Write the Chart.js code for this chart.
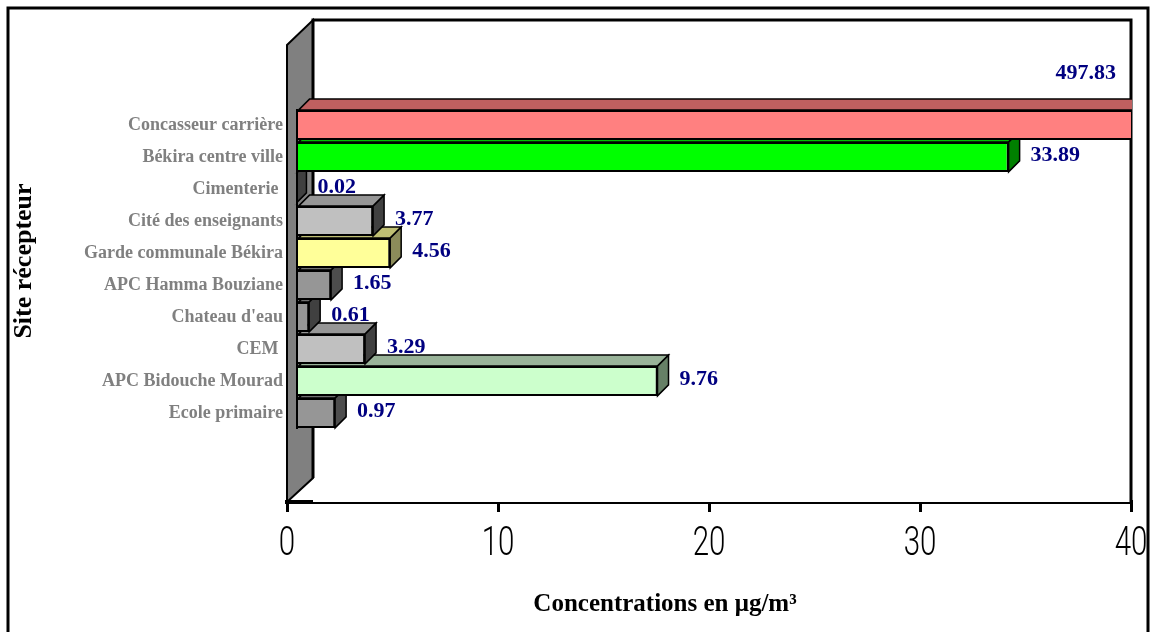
<!DOCTYPE html>
<html><head><meta charset="utf-8">
<script src="https://cdn.jsdelivr.net/npm/chart.js@4.4.1/dist/chart.umd.min.js"></script>
<style>html,body{margin:0;padding:0;background:#fff;overflow:hidden}canvas{display:block}</style>
</head><body>
<canvas id="c" width="1158" height="632"></canvas>
<script>
const categories = ['Concasseur carrière', 'Békira centre ville', 'Cimenterie ', 'Cité des enseignants', 'Garde communale Békira', 'APC Hamma Bouziane', "Chateau d'eau", 'CEM ', 'APC Bidouche Mourad', 'Ecole primaire'];
// bar lengths as drawn in the picture (axis units)
const barLengths = [497.83, 34.2, 0.4, 4.08, 4.89, 2.09, 1.05, 3.7, 17.56, 2.28];
// value labels as printed in the picture
const valueLabels = ['497.83', '33.89', '0.02', '3.77', '4.56', '1.65', '0.61', '3.29', '9.76', '0.97'];
const xTicks = [0, 10, 20, 30, 40];
const xTitle = 'Concentrations en μg/m³';
const yTitle = 'Site récepteur';

const frontColors = ['#ff8080', '#00ff00', '#969696', '#c0c0c0', '#ffff99', '#969696', '#969696', '#c0c0c0', '#ccffcc', '#969696'];
const topColors   = ['#c06060', '#00c000', '#707070', '#969696', '#bfbf73', '#707070', '#707070', '#969696', '#99b399', '#707070'];
const sideColors  = ['#804040', '#008000', '#404040', '#404040', '#8c8c5a', '#4d4d4d', '#404040', '#404040', '#668066', '#4d4d4d'];

const DEPTH = 11, INSET = 10, WALL = 26;
const SERIF = '"Liberation Serif", "Times New Roman", serif';

function poly(ctx, pts, fill) {
  ctx.beginPath();
  ctx.moveTo(pts[0][0], pts[0][1]);
  for (let k = 1; k < pts.length; k++) ctx.lineTo(pts[k][0], pts[k][1]);
  ctx.closePath();
  ctx.fillStyle = fill; ctx.fill();
  ctx.strokeStyle = '#000'; ctx.lineWidth = 1.5; ctx.stroke();
}

const deco = {
  id: 'deco',
  beforeDatasetsDraw(chart) {
    const {ctx, chartArea: a} = chart;
    ctx.save();
    ctx.fillStyle = '#fff';
    ctx.fillRect(a.left + WALL, a.top, a.right - a.left - WALL, a.bottom - a.top);
    ctx.beginPath();
    ctx.moveTo(a.left, a.top + 25); ctx.lineTo(a.left + WALL, a.top);
    ctx.lineTo(a.left + WALL, a.bottom - 24); ctx.lineTo(a.left, a.bottom);
    ctx.closePath();
    ctx.fillStyle = '#808080'; ctx.fill();
    ctx.strokeStyle = '#000'; ctx.lineWidth = 2; ctx.stroke();
    ctx.lineWidth = 3;
    ctx.beginPath();
    ctx.moveTo(a.left + WALL, a.bottom - 24); ctx.lineTo(a.left + WALL, a.top);
    ctx.lineTo(a.right, a.top); ctx.lineTo(a.right, a.bottom);
    ctx.stroke();
    const meta = chart.getDatasetMeta(0);
    ctx.beginPath(); ctx.rect(a.left, 0, a.right - a.left + 1, chart.height); ctx.clip();
    for (let i = meta.data.length - 1; i >= 0; i--) {
      const b = meta.data[i].getProps(['x', 'y', 'base', 'height'], true);
      const top = b.y - b.height / 2, bot = b.y + b.height / 2;
      const x0 = b.base + INSET, xe = Math.min(b.x, a.right + 40);
      poly(ctx, [[x0, top], [x0 + DEPTH, top - DEPTH], [xe + DEPTH, top - DEPTH], [xe, top]], topColors[i]);
      poly(ctx, [[xe, top], [xe + DEPTH, top - DEPTH], [xe + DEPTH, bot - DEPTH], [xe, bot]], sideColors[i]);
    }
    ctx.restore();
  },
  afterDatasetsDraw(chart) {
    const {ctx, chartArea: a} = chart;
    const meta = chart.getDatasetMeta(0);
    const xs = chart.scales.x;
    const xmax = xs.max;
    ctx.save();
    for (let i = 0; i < meta.data.length; i++) {
      const b = meta.data[i].getProps(['x', 'y', 'base', 'height'], true);
      const top = b.y - b.height / 2, bot = b.y + b.height / 2;
      ctx.fillStyle = '#808080';
      ctx.fillRect(a.left, top - 1, INSET, bot - top + 2);
      ctx.strokeStyle = '#000'; ctx.lineWidth = 2;
      ctx.beginPath(); ctx.moveTo(a.left + INSET, top - 1); ctx.lineTo(a.left + INSET, bot + 1); ctx.stroke();
    }
    ctx.lineWidth = 2; ctx.beginPath();
    ctx.moveTo(a.left, a.top + 25); ctx.lineTo(a.left, a.bottom); ctx.stroke();
    // value labels
    ctx.font = 'bold 22px ' + SERIF;
    ctx.fillStyle = '#000080';
    ctx.textBaseline = 'middle';
    for (let i = 0; i < meta.data.length; i++) {
      const b = meta.data[i].getProps(['x', 'y'], true);
      if (barLengths[i] > xmax) {
        ctx.textAlign = 'right';
        ctx.fillText(valueLabels[i], a.right - 15, a.top + 53);
      } else {
        ctx.textAlign = 'left';
        ctx.fillText(valueLabels[i], b.x + DEPTH + 11, b.y - 2);
      }
    }
    // x tick labels (narrow, thin face) at the axis' tick positions
    ctx.fillStyle = '#000';
    ctx.font = '300 41px Roboto, "Liberation Sans", sans-serif';
    ctx.textAlign = 'center';
    ctx.textBaseline = 'middle';
    for (const v of xTicks) {
      ctx.save();
      ctx.translate(xs.getPixelForValue(v), a.bottom + 43);
      ctx.scale(0.72, 1);
      ctx.fillText(String(v), 0, 0);
      ctx.restore();
    }
    // x axis title
    ctx.font = 'bold 25px ' + SERIF;
    ctx.fillStyle = '#000';
    ctx.textAlign = 'center';
    ctx.fillText(xTitle, 665, 605);
    ctx.restore();
  },
  afterDraw(chart) {
    const ctx = chart.ctx;
    ctx.save();
    ctx.strokeStyle = '#000'; ctx.lineWidth = 3;
    ctx.beginPath();
    ctx.moveTo(8, 640); ctx.lineTo(8, 8); ctx.lineTo(1148, 8); ctx.lineTo(1148, 640);
    ctx.stroke();
    ctx.restore();
  }
};

new Chart(document.getElementById('c'), {
  type: 'bar',
  data: {
    datasets: [{
      data: categories.map((c, i) => ({x: barLengths[i], y: i})),
      backgroundColor: frontColors,
      borderColor: '#000',
      borderWidth: 2,
      borderSkipped: false,
      barPercentage: 0.93,
      categoryPercentage: 1
    }]
  },
  options: {
    indexAxis: 'y',
    responsive: false,
    animation: false,
    devicePixelRatio: 1,
    layout: {padding: {left: 9, top: 20, right: 27, bottom: 0}},
    plugins: {legend: {display: false}, tooltip: {enabled: false}},
    scales: {
      x: {
        type: 'linear', min: 0, max: 40, offset: false,
        afterBuildTicks: s => { s.ticks = xTicks.map(v => ({value: v})); },
        ticks: {display: false},
        grid: {drawOnChartArea: false, color: '#000', lineWidth: 3, tickLength: 10, offset: false},
        border: {color: '#000', width: 4},
        afterFit: s => { s.height = 130; s.paddingLeft = 0; s.paddingRight = 0; }
      },
      y: {
        type: 'linear', reverse: true, min: -3.281, max: 11.781, offset: false,
        afterBuildTicks: s => { s.ticks = categories.map((c, i) => ({value: i})); },
        ticks: {
          callback: v => categories[v] !== undefined ? categories[v] : '',
          font: {family: SERIF, size: 18, weight: 'bold'},
          color: '#808080', padding: 4, autoSkip: false
        },
        grid: {display: false, drawTicks: false, tickLength: 0, offset: false},
        border: {display: false},
        title: {display: true, text: yTitle, font: {family: SERIF, size: 26, weight: 'bold'}, color: '#000', padding: 0},
        afterFit: s => { s.width = 278; s.paddingTop = 0; s.paddingBottom = 0; }
      }
    }
  },
  plugins: [deco]
});
</script>
</body></html>
